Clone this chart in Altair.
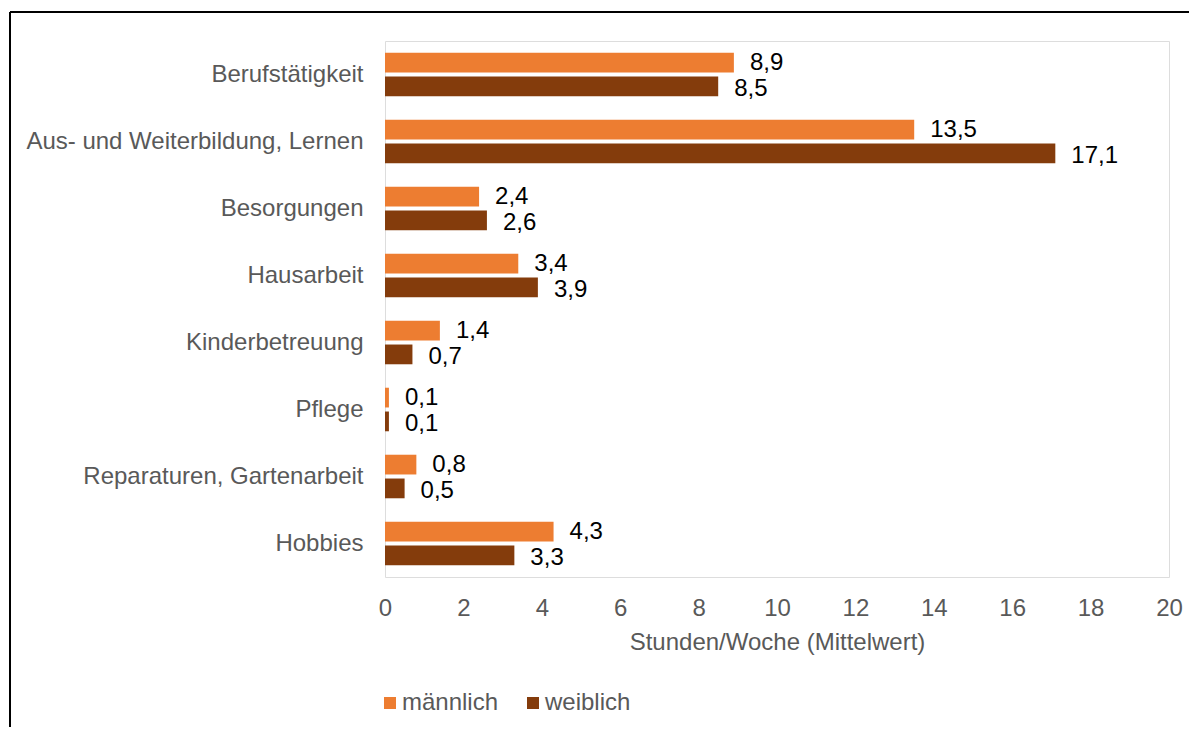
import altair as alt
import pandas as pd

categories = ["Berufstätigkeit ", "Aus- und Weiterbildung, Lernen", "Besorgungen ",
              "Hausarbeit", "Kinderbetreuung", "Pflege", "Reparaturen, Gartenarbeit", "Hobbies"]
series = ["männlich", "weiblich"]
maennlich = [8.9, 13.5, 2.4, 3.4, 1.4, 0.1, 0.8, 4.3]
weiblich = [8.5, 17.1, 2.6, 3.9, 0.7, 0.1, 0.5, 3.3]
x_ticks = [0, 2, 4, 6, 8, 10, 12, 14, 16, 18, 20]
colors = ["#ED7D31", "#843C0C"]

rows = []
for c, m, w in zip(categories, maennlich, weiblich):
    rows.append({"Kategorie": c, "Geschlecht": series[0], "Wert": m})
    rows.append({"Kategorie": c, "Geschlecht": series[1], "Wert": w})
df = pd.DataFrame(rows)
df["Label"] = df["Wert"].map(lambda v: f"{v:.1f}".replace(".", ","))

FONT = "Liberation Sans"
GRAY = "#595959"
FS = 24

y_enc = alt.Y("Kategorie:N", sort=categories,
              scale=alt.Scale(paddingInner=0.35, paddingOuter=0.175),
              axis=alt.Axis(title=None, ticks=False, domain=False, labelFontSize=FS,
                            labelColor=GRAY, labelFont=FONT, labelPadding=22, labelLimit=500))
yoff_enc = alt.YOffset("Geschlecht:N", sort=series, scale=alt.Scale(paddingInner=0.17))
x_enc = alt.X("Wert:Q", scale=alt.Scale(domain=[0, 20], nice=False),
              axis=alt.Axis(values=x_ticks, grid=False, ticks=False, domain=False,
                            labelFlush=False,
                            labelFontSize=FS, labelColor=GRAY, labelFont=FONT, labelPadding=19,
                            title="Stunden/Woche (Mittelwert)", titleFontSize=FS,
                            titleFontWeight="normal", titleColor=GRAY, titleFont=FONT,
                            titlePadding=10))

base = alt.Chart(df)

bars = base.mark_bar().encode(
    x=x_enc, y=y_enc, yOffset=yoff_enc,
    color=alt.Color("Geschlecht:N", sort=series,
                    scale=alt.Scale(domain=series, range=colors),
                    legend=alt.Legend(title=None, orient="none", direction="horizontal",
                                      legendX=-7, legendY=650, symbolType="square",
                                      symbolSize=144, symbolStrokeWidth=0,
                                      labelFontSize=FS, labelColor=GRAY, labelFont=FONT,
                                      labelOffset=0, columnPadding=22)),
)

lab_m = base.transform_filter(alt.datum.Geschlecht == series[0]).mark_text(
    align="left", baseline="middle", dx=16, dy=0, fontSize=FS, font=FONT, color="#000000"
).encode(x="Wert:Q", y=alt.Y("Kategorie:N", sort=categories), yOffset=yoff_enc, text="Label:N")
lab_w = base.transform_filter(alt.datum.Geschlecht == series[1]).mark_text(
    align="left", baseline="middle", dx=16, dy=3, fontSize=FS, font=FONT, color="#000000"
).encode(x="Wert:Q", y=alt.Y("Kategorie:N", sort=categories), yOffset=yoff_enc, text="Label:N")

frame_df = pd.DataFrame({"k": [0]})
frame_left = alt.Chart(frame_df).mark_rule(color="black", strokeWidth=2).encode(
    x=alt.value(-375), y=alt.value(-29), y2=alt.value(720))
frame_top = alt.Chart(frame_df).mark_rule(color="black", strokeWidth=2).encode(
    x=alt.value(-375), x2=alt.value(830), y=alt.value(-29))

chart = alt.layer(bars, lab_m, lab_w, frame_left, frame_top).properties(
    width=784, height=536,
    padding={"left": 377, "top": 33, "right": 20, "bottom": 150},
    autosize=alt.AutoSizeParams(type="none"),
).configure_view(stroke="#BFBFBF", strokeWidth=1.5).configure(background="white")

chart.save("out.html", embed_options={"renderer": "svg", "actions": False})
